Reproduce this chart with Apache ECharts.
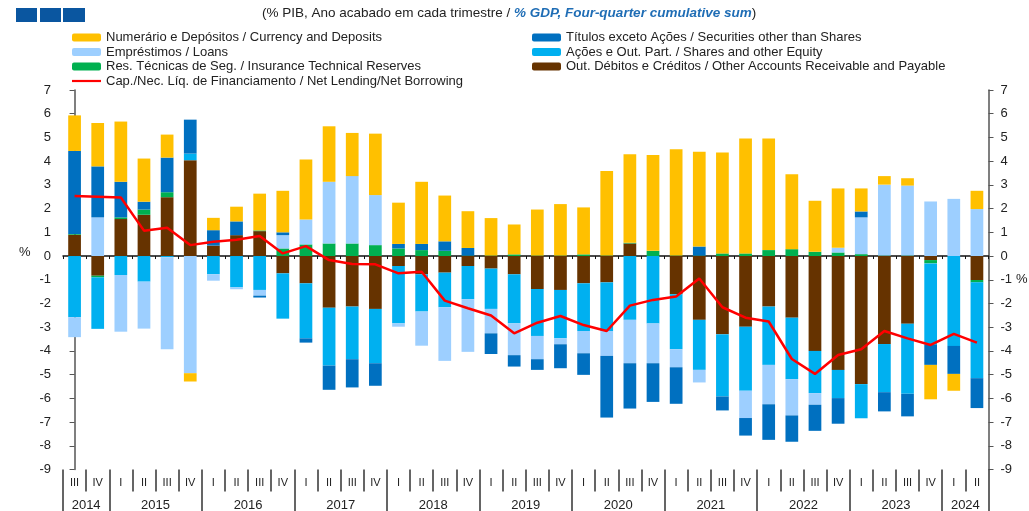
<!DOCTYPE html>
<html>
<head>
<meta charset="utf-8">
<script src="https://cdn.jsdelivr.net/npm/echarts@6/dist/echarts.min.js"></script>
<style>
  html, body { margin: 0; padding: 0; background: #fff; }
  #main { width: 1029px; height: 511px; }
</style>
</head>
<body>
<div id="main"></div>
<script>
// trimestres (2014 III - 2024 II)
const quarters = ['III','IV',
  'I','II','III','IV', 'I','II','III','IV', 'I','II','III','IV', 'I','II','III','IV',
  'I','II','III','IV', 'I','II','III','IV', 'I','II','III','IV', 'I','II','III','IV',
  'I','II','III','IV', 'I','II'];
const quarterYears = [2014,2014,
  2015,2015,2015,2015, 2016,2016,2016,2016, 2017,2017,2017,2017, 2018,2018,2018,2018,
  2019,2019,2019,2019, 2020,2020,2020,2020, 2021,2021,2021,2021, 2022,2022,2022,2022,
  2023,2023,2023,2023, 2024,2024];

// séries (% PIB)
const otherAccounts = [0.9,-0.83,1.56,1.74,2.48,4.04,0.44,0.88,1.05,-0.73,
  -1.15,-2.18,-2.13,-2.23,-0.42,-0.77,-0.7,-0.42,-0.53,-0.77,
  -1.39,-1.43,-1.15,-1.11,0.53,0,-1.61,-2.69,-3.3,-2.98,
  -2.13,-2.6,-4.0,-4.8,-5.4,-3.71,-2.86,-0.17,0,-1.01];
const insurance = [0.03,-0.07,0.07,0.22,0.21,0,0,0,0.03,0.32,
  0.49,0.53,0.53,0.46,0.32,0.25,0.22,0.02,0.02,0.07,
  0.02,0.02,0.07,0.02,0.03,0.22,0.02,0.02,0.11,0.11,
  0.25,0.29,0.18,0.15,0.08,0.02,0.02,-0.14,0,-0.1];
const shares = [-2.58,-2.17,-0.8,-1.08,-0.05,0.28,-0.77,-1.32,-1.43,-1.91,
  -2.32,-2.44,-2.22,-2.29,-2.42,-1.57,-1.46,-1.4,-1.7,-2.07,
  -1.98,-2.04,-2.01,-2.05,-2.69,-2.84,-2.32,-2.11,-2.62,-2.7,
  -2.46,-2.59,-1.78,-1.19,-1.44,-2.03,-2.95,-3.44,-3.79,-4.04];
const loans = [-0.84,1.63,-2.39,-1.98,-3.88,-4.94,-0.27,-0.08,-0.24,0.56,
  1.05,2.6,2.84,2.11,-0.14,-1.44,-2.26,-2.22,-1.03,-1.34,
  -0.98,-0.25,-0.94,-1.05,-1.83,-1.68,-0.76,-0.53,0,-1.15,
  -1.66,-1.53,-0.49,0.2,1.55,2.99,2.95,2.3,2.41,1.98];
const securities = [3.5,2.15,1.5,0.33,1.46,1.43,0.65,0.58,-0.08,0.12,
  -0.18,-1.02,-1.19,-0.95,0.19,0.26,0.4,0.32,-0.87,-0.48,
  -0.45,-1.01,-0.91,-2.6,-1.91,-1.63,-1.54,0.38,-0.59,-0.74,
  -1.5,-1.11,-1.1,-1.08,0.25,-0.81,-0.95,-0.84,-1.18,-1.26];
const currency = [1.5,1.83,2.54,1.82,0.97,-0.35,0.52,0.62,1.55,1.75,
  2.53,2.34,1.82,2.59,1.74,2.62,1.93,1.55,1.58,1.26,
  1.94,2.17,1.98,3.56,3.73,4.04,4.48,4.0,4.25,4.84,
  4.7,3.16,2.15,2.5,0.97,0.36,0.31,-1.45,-0.71,0.77];
const netLending = [2.53,2.5,2.47,1.07,1.19,0.46,0.6,0.69,0.84,0.11,
  0.42,-0.17,-0.34,-0.35,-0.73,-0.66,-1.88,-2.2,-2.51,-3.26,
  -2.81,-2.53,-2.91,-3.16,-2.09,-1.85,-1.71,-0.95,-2.16,-2.6,
  -2.76,-4.34,-4.97,-4.17,-3.93,-3.16,-3.47,-3.75,-3.28,-3.65];

const N_CUR = 'Numerário e Depósitos / Currency and Deposits';
const N_SEC = 'Títulos exceto Ações / Securities other than Shares';
const N_LOA = 'Empréstimos / Loans';
const N_SHA = 'Ações e Out. Part. / Shares and other Equity';
const N_INS = 'Res. Técnicas de Seg. / Insurance Technical Reserves';
const N_OTH = 'Out. Débitos e Créditos / Other Accounts Receivable and Payable';
const N_NET = 'Cap./Nec. Líq. de Financiamento / Net Lending/Net Borrowing';

const FONT = "'Liberation Sans', Arial, sans-serif";

// rótulos dos anos no centro de cada ano
const yearCenter = {};
quarterYears.forEach(function (y, i) {
  if (!yearCenter[y]) yearCenter[y] = [i, i];
  yearCenter[y][1] = i;
});
const yearLabelAt = {};
Object.keys(yearCenter).forEach(function (y) {
  yearLabelAt[yearCenter[y][0] + yearCenter[y][1]] = y;
});

function barSeries(name, data, color) {
  return {
    name: name,
    type: 'bar',
    stack: 'fin',
    data: data,
    barWidth: '55%',
    itemStyle: { color: color },
    xAxisIndex: 0,
    yAxisIndex: 0
  };
}

const chart = echarts.init(document.getElementById('main'));
chart.setOption({
  animation: false,
  textStyle: { fontFamily: FONT },
  title: {
    left: 262,
    top: 6,
    padding: 0,
    text: '{a|(% PIB, Ano acabado em cada trimestre / }{b|% GDP, Four-quarter cumulative sum}{a|)}',
    textStyle: {
      fontWeight: 'normal',
      rich: {
        a: { fontSize: 13.5, color: '#222', fontWeight: 'normal', fontFamily: FONT },
        b: { fontSize: 13.5, color: '#1F6DB5', fontStyle: 'italic', fontWeight: 'bold', fontFamily: FONT }
      }
    }
  },
  legend: [{
    orient: 'vertical',
    left: 72,
    top: 30.5,
    padding: 0,
    itemWidth: 29,
    itemHeight: 8,
    itemGap: 0.5,
    textStyle: { fontSize: 13, color: '#222', lineHeight: 14 },
    data: [N_CUR, N_LOA, N_INS, { name: N_NET, icon: 'path://M0,0 L29,0 L29,2.2 L0,2.2 Z' }]
  }, {
    orient: 'vertical',
    left: 532,
    top: 30.5,
    padding: 0,
    itemWidth: 29,
    itemHeight: 8,
    itemGap: 0.5,
    textStyle: { fontSize: 13, color: '#222', lineHeight: 14 },
    data: [N_SEC, N_SHA, N_OTH]
  }],
  grid: { left: 63, right: 40.5, top: 90, bottom: 41.5, outerBoundsMode: 'none' },
  xAxis: [{
    // eixo no zero
    type: 'category',
    data: quarters,
    axisLine: { onZero: true, lineStyle: { color: '#111', width: 1.5 } },
    axisTick: { show: true, interval: 0, length: 3, lineStyle: { color: '#111' } },
    axisLabel: { show: false },
    splitLine: { show: false }
  }, {
    // trimestres
    type: 'category',
    data: quarters,
    position: 'bottom',
    axisLine: { show: false, onZero: false },
    axisTick: { show: true, interval: 0, length: 22, lineStyle: { color: '#333', width: 1.5 } },
    axisLabel: { interval: 0, fontSize: 11, color: '#222', margin: 8 },
    splitLine: { show: false }
  }, {
    // separadores dos anos
    type: 'category',
    data: quarters,
    position: 'bottom',
    axisLine: { show: false, onZero: false },
    axisTick: {
      show: true,
      length: 42,
      interval: function (i) { return i === 0 || quarterYears[i] !== quarterYears[i - 1]; },
      lineStyle: { color: '#333', width: 1.5 }
    },
    axisLabel: { show: false },
    splitLine: { show: false }
  }, {
    // anos
    type: 'value',
    min: -0.5,
    max: 39.5,
    interval: 0.5,
    position: 'bottom',
    axisLine: { show: false, onZero: false },
    axisTick: { show: false },
    splitLine: { show: false },
    axisLabel: {
      fontSize: 13,
      color: '#222',
      margin: 29,
      showMinLabel: true,
      showMaxLabel: true,
      formatter: function (v) { return yearLabelAt[Math.round(v * 2)] || ''; }
    }
  }],
  yAxis: [{
    type: 'value',
    position: 'left',
    min: -9,
    max: 7,
    interval: 1,
    axisLine: { show: true, lineStyle: { color: '#555', width: 1.5 } },
    axisTick: { show: true, length: 5, lineStyle: { color: '#555' } },
    axisLabel: { fontSize: 13, color: '#222', margin: 12 },
    splitLine: { show: false }
  }, {
    type: 'value',
    position: 'right',
    min: -9,
    max: 7,
    interval: 1,
    axisLine: { show: true, lineStyle: { color: '#555', width: 1.5 } },
    axisTick: { show: true, length: 5, lineStyle: { color: '#555' } },
    axisLabel: { fontSize: 13, color: '#222', margin: 12 },
    splitLine: { show: false }
  }],
  graphic: [
    { type: 'rect', left: 16, top: 8, shape: { width: 21, height: 14 }, style: { fill: '#0A56A0' } },
    { type: 'rect', left: 40, top: 8, shape: { width: 21, height: 14 }, style: { fill: '#0A56A0' } },
    { type: 'rect', left: 63, top: 8, shape: { width: 22, height: 14 }, style: { fill: '#0A56A0' } },
    { type: 'text', left: 19, top: 246, style: { text: '%', fontSize: 13, fill: '#222', fontFamily: FONT } },
    { type: 'text', left: 1016, top: 273, style: { text: '%', fontSize: 13, fill: '#222', fontFamily: FONT } }
  ],
  series: [
    barSeries(N_OTH, otherAccounts, '#663300'),
    barSeries(N_INS, insurance, '#00B050'),
    barSeries(N_SHA, shares, '#00B0F0'),
    barSeries(N_LOA, loans, '#9DCFFF'),
    barSeries(N_SEC, securities, '#0070C0'),
    barSeries(N_CUR, currency, '#FFC000'),
    {
      name: N_NET,
      type: 'line',
      data: netLending,
      symbol: 'none',
      z: 5,
      xAxisIndex: 0,
      yAxisIndex: 0,
      itemStyle: { color: '#FF0000' },
      lineStyle: { color: '#FF0000', width: 2.5 }
    }
  ]
});
</script>
</body>
</html>
